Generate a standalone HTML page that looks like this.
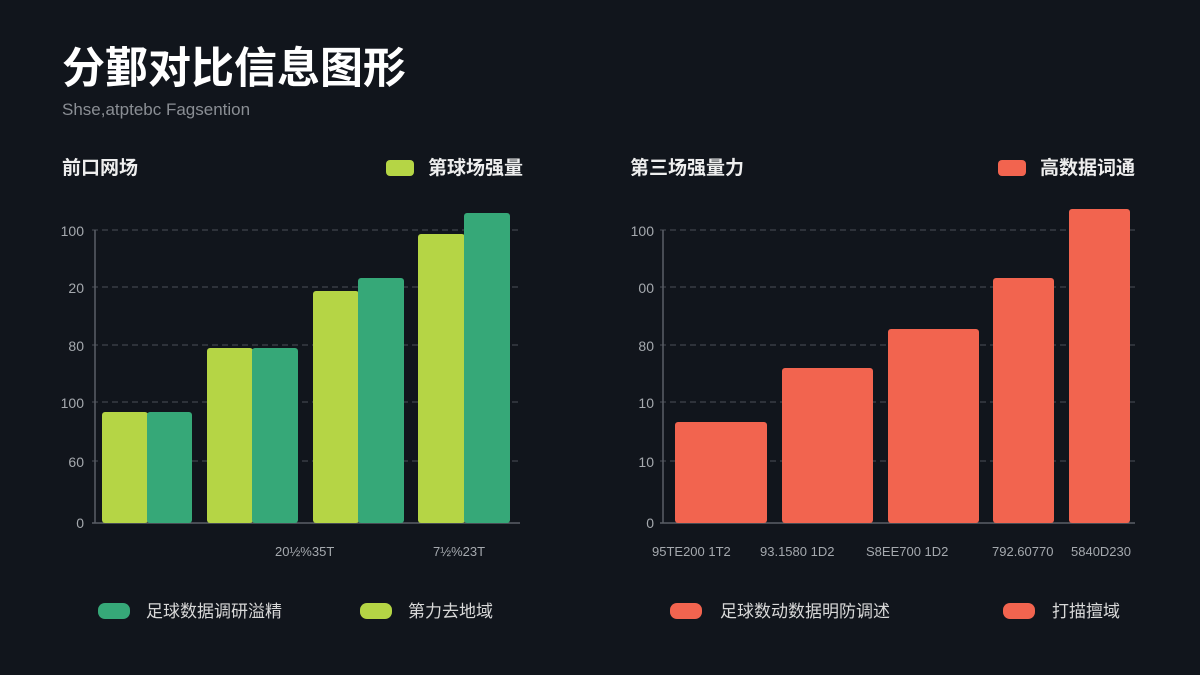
<!DOCTYPE html>
<html><head><meta charset="utf-8"><style>
body{margin:0;width:1200px;height:675px;background:#11151c;overflow:hidden;font-family:"Liberation Sans","Noto Sans CJK SC",sans-serif}
</style></head><body>
<svg width="1200" height="675" xmlns="http://www.w3.org/2000/svg" style="position:absolute;left:0;top:0">
<rect width="1200" height="675" fill="#11151c"/>
<g font-family="Liberation Sans, Noto Sans CJK SC, sans-serif">
<text x="62" y="83" font-size="43" font-weight="bold" fill="#fff">分鄞对比信息图形</text>
<text x="62" y="115" font-size="17" fill="#8a8e94">Shse,atptebc Fagsention</text>
<text x="62" y="174" font-size="19" font-weight="bold" fill="#eee">前口网场</text>
<rect x="386" y="160" width="28" height="16" rx="4" fill="#b5d545"/>
<text x="428" y="174" font-size="19" font-weight="bold" fill="#eee">第球场强量</text>
<text x="630" y="174" font-size="19" font-weight="bold" fill="#eee">第三场强量力</text>
<rect x="998" y="160" width="28" height="16" rx="4" fill="#f2644f"/>
<text x="1040" y="174" font-size="19" font-weight="bold" fill="#eee">高数据词通</text>
</g>
<g stroke="#4a4f57" stroke-dasharray="6,4" stroke-width="1">
<line x1="92" y1="230" x2="520" y2="230"/><line x1="92" y1="287" x2="520" y2="287"/><line x1="92" y1="345" x2="520" y2="345"/><line x1="92" y1="402" x2="520" y2="402"/><line x1="92" y1="461" x2="520" y2="461"/>
<line x1="660" y1="230" x2="1135" y2="230"/><line x1="660" y1="287" x2="1135" y2="287"/><line x1="660" y1="345" x2="1135" y2="345"/><line x1="660" y1="402" x2="1135" y2="402"/><line x1="660" y1="461" x2="1135" y2="461"/>
</g>
<g stroke="#5a5f66" stroke-width="1.5">
<line x1="95" y1="230" x2="95" y2="523"/><line x1="92" y1="523" x2="520" y2="523"/>
<line x1="663" y1="230" x2="663" y2="523"/><line x1="660" y1="523" x2="1135" y2="523"/>
</g>
<g font-size="14" fill="#a5a9ae" text-anchor="end" font-family="Liberation Sans, sans-serif">
<text x="84" y="236">100</text><text x="84" y="293">20</text><text x="84" y="351">80</text><text x="84" y="408">100</text><text x="84" y="467">60</text><text x="84" y="528">0</text>
<text x="654" y="236">100</text><text x="654" y="293">00</text><text x="654" y="351">80</text><text x="654" y="408">10</text><text x="654" y="467">10</text><text x="654" y="528">0</text>
</g>
<g>
<rect x="102" y="412" width="46" height="111" rx="3" fill="#b5d545"/><rect x="147" y="412" width="45" height="111" rx="3" fill="#36a878"/>
<rect x="207" y="348" width="46" height="175" rx="3" fill="#b5d545"/><rect x="252" y="348" width="46" height="175" rx="3" fill="#36a878"/>
<rect x="313" y="291" width="46" height="232" rx="3" fill="#b5d545"/><rect x="358" y="278" width="46" height="245" rx="3" fill="#36a878"/>
<rect x="418" y="234" width="47" height="289" rx="3" fill="#b5d545"/><rect x="464" y="213" width="46" height="310" rx="3" fill="#36a878"/>
<rect x="675" y="422" width="92" height="101" rx="3" fill="#f2644f"/>
<rect x="782" y="368" width="91" height="155" rx="3" fill="#f2644f"/>
<rect x="888" y="329" width="91" height="194" rx="3" fill="#f2644f"/>
<rect x="993" y="278" width="61" height="245" rx="3" fill="#f2644f"/>
<rect x="1069" y="209" width="61" height="314" rx="3" fill="#f2644f"/>
</g>
<g font-size="13" fill="#a5a9ae" font-family="Liberation Sans, sans-serif">
<text x="275" y="556">20½%35T</text><text x="433" y="556">7½%23T</text>
<text x="652" y="556">95TE200 1T2</text><text x="760" y="556">93.1580 1D2</text><text x="866" y="556">S8EE700 1D2</text><text x="992" y="556">792.60770</text><text x="1071" y="556">5840D230</text>
</g>
<g font-size="17" fill="#d8d8d8" font-family="Liberation Sans, Noto Sans CJK SC, sans-serif">
<rect x="98" y="603" width="32" height="16" rx="7" fill="#36a878"/><text x="146" y="617">足球数据调研溢精</text>
<rect x="360" y="603" width="32" height="16" rx="7" fill="#b5d545"/><text x="408" y="617">第力去地域</text>
<rect x="670" y="603" width="32" height="16" rx="7" fill="#f2644f"/><text x="720" y="617">足球数动数据明防调述</text>
<rect x="1003" y="603" width="32" height="16" rx="7" fill="#f2644f"/><text x="1052" y="617">打描擅域</text>
</g>
</svg>
</body></html>
